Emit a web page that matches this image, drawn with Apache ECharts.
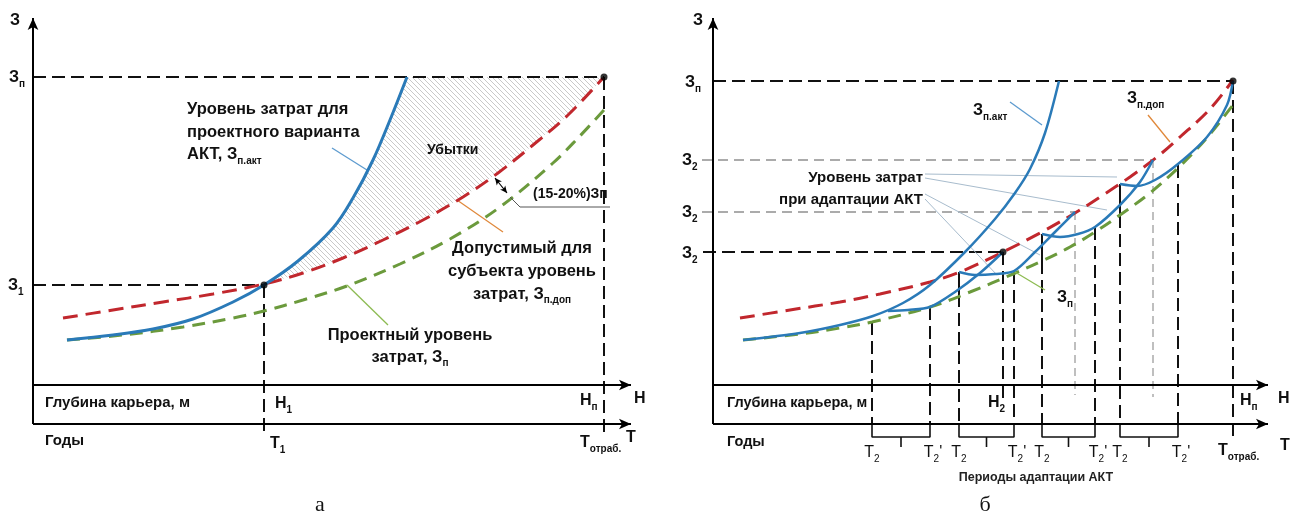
<!DOCTYPE html>
<html><head><meta charset="utf-8">
<script src="https://cdn.jsdelivr.net/npm/echarts@6/dist/echarts.min.js"></script>
<style>html,body{margin:0;padding:0;background:#fff}#c{width:1292px;height:518px}</style>
</head><body><div id="c"></div>
<script>
// ===== Panel "а": x = depth/time units from the cost axis, y = cost units above the depth axis =====
const aDesign    = [[34,45],[90,50],[150,58],[200,67],[231,74],[270,85],[314,99],[367,121],[417,146],[467,178],[520,222],[545,247],[571,275]];
const aAllowable = [[30,67],[80,75],[130,83],[180,91],[231,101],[270,112],[310,127],[350,145],[390,165],[430,188],[465,212],[500,240],[535,270],[570,307]];
const aActual    = [[34,45],[80,50],[120,56],[160,66],[200,83],[231,100],[265,124],[300,157],[320,187],[340,225],[357,265],[374,308]];
const aLevelP = 308, aLevel1 = 100, aX1 = 231, aXEnd = 571;

// ===== Panel "б" =====
const bDesign    = [[30,45],[87,51],[127,57],[159,63],[217,78],[257,93],[300,111],[329,124],[357,138],[382,153],[407,170],[437,192],[465,217],[492,245],[520,280]];
const bAllowable = [[27,67],[77,75],[127,83],[167,91],[217,103],[247,113],[290,133],[327,152],[362,172],[387,188],[417,208],[444,228],[467,248],[497,276],[520,305]];
const bActual    = [[30,45],[87,52],[127,60],[160,69],[190,82],[217,100],[252,133],[282,166],[302,192],[317,216],[332,252],[346,304]];
// adaptation curves: drop from the allowable level, then rise again until the next level
const bAdapt1 = [[175,74],[195,75],[217,78],[242,93],[267,112],[290,133]];
const bAdapt2 = [[246,113],[262,110],[282,111],[301,114],[322,133],[342,153],[362,173]];
const bAdapt3 = [[329,151],[347,148],[365,151],[382,158],[407,180],[427,203],[440,225]];
const bAdapt4 = [[407,201],[424,199],[442,205],[465,221],[494,248],[514,280],[520,304]];
const bPeriodStart = [159,246,329,407];
const bStartTop    = [63,113,151,201];
const bStartDesign = [63,91,124,170];
const bPeriodEnd   = [217,301,382,465];
const bEndTop      = [78,114,158,220];
const bLevelP = 304, bLevelZ2 = [225,173,133], bXZ2 = [440,362,290], bXEnd = 520;

const AXIS_T = -39, AXIS_H = 0, AXIS_TOP = 367;

// ---------- helpers ----------
const BLUE='#2a7ab8', RED='#c1272d', GREEN='#6b9a3c', BLACK='#111', GRAY='#ababab';
function ln(g, data, color, width, dash, smooth, z){
  return {type:'line', xAxisIndex:g, yAxisIndex:g, data, symbol:'none', silent:true, animation:false,
    smooth: smooth||false, z: z||3,
    lineStyle:{color, width, type: dash||'solid', cap:'butt'}};
}
function arrows(g, pairs, width, size, both){
  return {type:'line', xAxisIndex:g, yAxisIndex:g, data:[], symbol:'none', animation:false, silent:true, z:6,
    markLine:{silent:true, animation:false, symbol: both?['arrow','arrow']:['none','arrow'], symbolSize:size,
      label:{show:false}, emphasis:{disabled:true}, lineStyle:{color:'#000', width, type:'solid'},
      data: pairs.map(p=>[{coord:p[0]},{coord:p[1]}])}};
}
function dots(g, pts){
  return {type:'scatter', xAxisIndex:g, yAxisIndex:g, data:pts, symbolSize:7, itemStyle:{color:'#000'}, silent:true, animation:false, z:8};
}
const FF='"Liberation Sans", Arial, sans-serif';
function rich(size, bold){
  const w = bold===false?'normal':'bold';
  return {
    m:{fontSize:size, fontWeight:w, fontFamily:FF, fill:'#111', color:'#111', lineHeight:size+6, verticalAlign:'middle'},
    s:{fontSize:Math.round(size*0.62), fontWeight:w, fontFamily:FF, fill:'#111', color:'#111', lineHeight:Math.round(size*0.62)+1, verticalAlign:'bottom'}
  };
}
function tx(x, y, text, size, align, bold, lh){
  const r = rich(size, bold);
  if (lh){ r.m.lineHeight = lh; }
  return {type:'text', x, y, z:100, silent:true,
    style:{text, rich:r, align:align||'left', verticalAlign:'middle', fontSize:size, fontFamily:FF, fontWeight:bold===false?'normal':'bold', fill:'#111'}};
}

// hatch pattern
const pc = document.createElement('canvas'); pc.width=5; pc.height=5;
const pctx = pc.getContext('2d'); pctx.strokeStyle='#c9c9c9'; pctx.lineWidth=1;
pctx.beginPath(); pctx.moveTo(-1,-1); pctx.lineTo(6,6); pctx.moveTo(-1,4); pctx.lineTo(1,6); pctx.moveTo(4,-1); pctx.lineTo(6,1); pctx.stroke();
const hatch = {image: pc, repeat:'repeat'};
const hatchPoly = [...aActual.filter(p=>p[0]>=aX1), [aXEnd, aLevelP], ...aAllowable.filter(p=>p[0]>=aX1).reverse()];

const DASH=[13,6], RDASH=[15,8], GDASH=[13,8], GRDASH=[10,6];

const series = [];
// ---- panel а ----
series.push({type:'custom', xAxisIndex:0, yAxisIndex:0, data:[0], silent:true, animation:false, z:1,
  renderItem:(p, api)=>({type:'polygon', shape:{points: hatchPoly.map(q=>api.coord(q))}, style:{fill:hatch, stroke:null}})});
series.push(ln(0, [[0,aLevelP],[aXEnd,aLevelP]], BLACK, 2, DASH));
series.push(ln(0, [[aXEnd,aLevelP],[aXEnd,-48]], BLACK, 2, DASH));
series.push(ln(0, [[0,aLevel1],[aX1,aLevel1]], BLACK, 2, DASH));
series.push(ln(0, [[aX1,aLevel1],[aX1,-48]], BLACK, 2, DASH));
series.push(ln(0, aDesign, GREEN, 3, GDASH, 0.35, 3));
series.push(ln(0, aAllowable, RED, 3, RDASH, 0.35, 4));
series.push(ln(0, aActual, BLUE, 3, 'solid', 0.35, 5));
series.push(arrows(0, [[[0,AXIS_T],[0,AXIS_TOP]], [[0,AXIS_H],[598,AXIS_H]], [[0,AXIS_T],[598,AXIS_T]]], 2, [8,12]));
series.push(arrows(0, [[[462,207],[474,192]]], 1.2, [5,7], true));
series.push(ln(0, [[299,237],[334,215]], '#5d9bcf', 1.3));
series.push(ln(0, [[424,185],[470,153]], '#e0883a', 1.3));
series.push(ln(0, [[314,100],[355,60]], '#8dbb52', 1.3));
series.push(ln(0, [[477,188],[487,178],[577,178]], '#555', 1));
series.push(dots(0, [[aX1,aLevel1],[aXEnd,aLevelP]]));

// ---- panel б ----
series.push(ln(1, [[0,bLevelP],[bXEnd,bLevelP]], BLACK, 2, DASH));
series.push(ln(1, [[bXEnd,bLevelP],[bXEnd,-52]], BLACK, 2, DASH));
series.push(ln(1, [[-11,bLevelZ2[0]],[bXZ2[0],bLevelZ2[0]]], GRAY, 2, GRDASH));
series.push(ln(1, [[-11,bLevelZ2[1]],[bXZ2[1],bLevelZ2[1]]], GRAY, 2, GRDASH));
series.push(ln(1, [[-10,bLevelZ2[2]],[bXZ2[2],bLevelZ2[2]]], BLACK, 2, DASH));
series.push(ln(1, [[bXZ2[0],bLevelZ2[0]],[bXZ2[0],-12]], GRAY, 1.5, [8,5]));
series.push(ln(1, [[bXZ2[1],bLevelZ2[1]],[bXZ2[1],-10]], GRAY, 1.5, [8,5]));
series.push(ln(1, [[bXZ2[2],bLevelZ2[2]],[bXZ2[2],-15]], BLACK, 2, DASH));
bPeriodStart.forEach((x,i)=>{
  if (bStartTop[i] > bStartDesign[i]) series.push(ln(1, [[x,bStartTop[i]],[x,bStartDesign[i]]], BLACK, 2));
  series.push(ln(1, [[x,bStartDesign[i]],[x,AXIS_T]], BLACK, 2, DASH));
  const xe = bPeriodEnd[i];
  series.push(ln(1, [[xe,bEndTop[i]],[xe,AXIS_T]], BLACK, 2, DASH));
  series.push(ln(1, [[x,AXIS_T],[x,-52],[xe,-52],[xe,AXIS_T]], BLACK, 1.6));
  series.push(ln(1, [[(x+xe)/2,-52],[(x+xe)/2,-62]], BLACK, 1.6));
});
series.push(ln(1, bDesign, GREEN, 3, GDASH, 0.35, 3));
series.push(ln(1, bAllowable, RED, 3, RDASH, 0.35, 4));
[bActual, bAdapt1, bAdapt2, bAdapt3, bAdapt4].forEach(d=>series.push(ln(1, d, BLUE, 2.5, 'solid', 0.3, 5)));
series.push(arrows(1, [[[0,AXIS_T],[0,AXIS_TOP]], [[0,AXIS_H],[555,AXIS_H]], [[0,AXIS_T],[555,AXIS_T]]], 2, [8,12]));
series.push(ln(1, [[297,283],[329,260]], '#5d9bcf', 1.3));
series.push(ln(1, [[435,270],[457,243]], '#e0883a', 1.3));
series.push(ln(1, [[302,113],[332,95]], '#8dbb52', 1.3));
const ADL='#a8bccd';
series.push(ln(1, [[212,211],[404,208]], ADL, 1));
series.push(ln(1, [[212,207],[394,175]], ADL, 1));
series.push(ln(1, [[212,191],[327,130]], ADL, 1));
series.push(ln(1, [[212,186],[284,110]], ADL, 1));
series.push(dots(1, [[bXZ2[2],bLevelZ2[2]],[bXEnd,bLevelP]]));

// ---- texts ----
const S = (m, s) => `{m|${m}}{s|${s}}`;
const texts = [
  // panel а
  tx(10, 21, '{m|З}', 16), tx(9, 78, S('З','п'), 16), tx(8, 286, S('З','1'), 16),
  tx(187, 132, '{m|Уровень затрат для}\n{m|проектного варианта}\n{m|АКТ, }'+S('З','п.акт'), 16.5, 'left', true, 22.5),
  tx(427, 150, '{m|Убытки}', 14),
  tx(533, 194, '{m|(15-20%)Зп}', 14),
  tx(522, 271, '{m|Допустимый для}\n{m|субъекта уровень}\n{m|затрат, }'+S('З','п.доп'), 16.5, 'center', true, 23),
  tx(410, 346, '{m|Проектный уровень}\n{m|затрат, }'+S('З','п'), 16.5, 'center', true, 22),
  tx(45, 403, '{m|Глубина карьера, м}', 15),
  tx(45, 441, '{m|Годы}', 15),
  tx(275, 404, S('Н','1'), 16), tx(270, 444, S('Т','1'), 16),
  tx(580, 401, S('Н','п'), 16), tx(580, 443, S('Т','отраб.'), 16),
  tx(634, 399, '{m|Н}', 16), tx(626, 438, '{m|Т}', 16),
  // panel б
  tx(693, 21, '{m|З}', 16), tx(685, 83, S('З','п'), 16),
  tx(682, 161, S('З','2'), 16), tx(682, 213, S('З','2'), 16), tx(682, 254, S('З','2'), 16),
  tx(973, 111, S('З','п.акт'), 16), tx(1127, 99, S('З','п.доп'), 16), tx(1057, 298, S('З','п'), 16),
  tx(923, 189, '{m|Уровень затрат}\n{m|при адаптации АКТ}', 15, 'right', true, 22),
  tx(727, 403, '{m|Глубина карьера, м}', 14.5),
  tx(727, 442, '{m|Годы}', 14.5),
  tx(988, 403, S('Н','2'), 16), tx(1240, 401, S('Н','п'), 16), tx(1218, 451, S('Т','отраб.'), 16),
  tx(1278, 399, '{m|Н}', 16), tx(1280, 446, '{m|Т}', 16),
  {type:'text', x:1036, y:478, z:100, style:{text:'Периоды адаптации АКТ', fontSize:12.5, fontWeight:'bold', fontFamily:FF, fill:'#222', align:'center', verticalAlign:'middle'}},
  {type:'text', x:320, y:505, z:100, style:{text:'а', fontSize:22, fontFamily:'"Liberation Serif", serif', fill:'#111', align:'center', verticalAlign:'middle'}},
  {type:'text', x:985, y:505, z:100, style:{text:'б', fontSize:22, fontFamily:'"Liberation Serif", serif', fill:'#111', align:'center', verticalAlign:'middle'}}
];
// T2 / T2' labels under the brackets (1 data unit = 1 px in panel б, origin at x = 713)
bPeriodStart.forEach((x,i)=>{
  texts.push(tx(713+x, 453, S('Т','2'), 16, 'center', false));
  texts.push(tx(713+bPeriodEnd[i]+3, 453, S('Т','2')+"{m|'}", 16, 'center', false));
});

const chart = echarts.init(document.getElementById('c'), null, {renderer:'canvas'});
chart.setOption({
  animation:false, backgroundColor:'#fff',
  grid:[{left:13, top:0, width:627, height:518}, {left:693, top:0, width:599, height:518}],
  xAxis:[{type:'value', gridIndex:0, min:-20, max:607, show:false}, {type:'value', gridIndex:1, min:-20, max:579, show:false}],
  yAxis:[{type:'value', gridIndex:0, min:-133, max:385, show:false}, {type:'value', gridIndex:1, min:-133, max:385, show:false}],
  series,
  graphic: texts
});
</script></body></html>
